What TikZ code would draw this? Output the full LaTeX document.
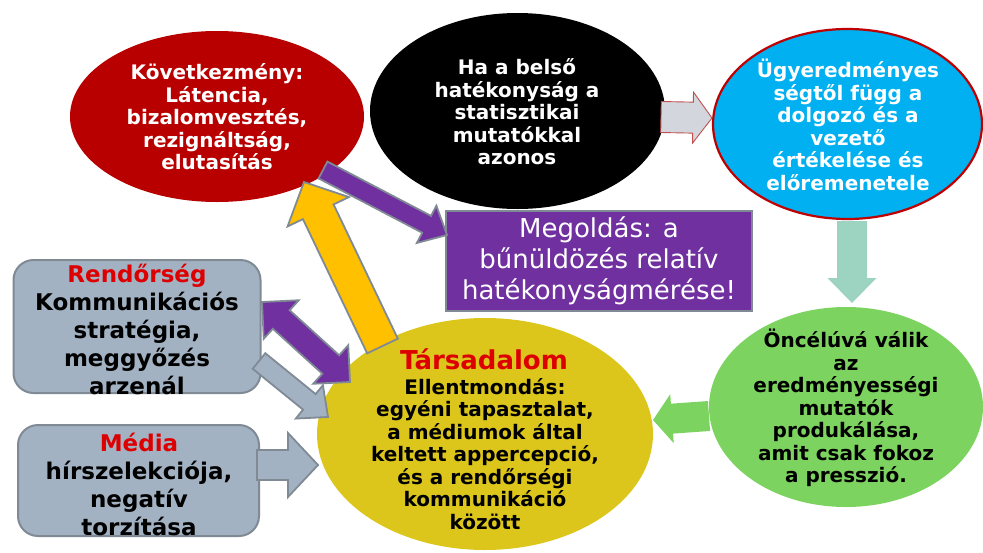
\documentclass[tikz,border=0pt]{standalone}
\usepackage{fontspec}
\setmainfont{DejaVu Sans}
\usetikzlibrary{shapes.geometric,calc}
\definecolor{cred}{HTML}{B80000}
\definecolor{cblue}{HTML}{00B0F0}
\definecolor{cborderred}{HTML}{C00000}
\definecolor{cpurple}{HTML}{7030A0}
\definecolor{cgray}{HTML}{A3B2C2}
\definecolor{cedge}{HTML}{7F8A95}
\definecolor{cyell}{HTML}{DCC61C}
\definecolor{cgold}{HTML}{FFC000}
\definecolor{cgreen}{HTML}{7DD35F}
\definecolor{cteal}{HTML}{9DD3C1}
\definecolor{clight}{HTML}{D3D7DD}
\definecolor{ctxtred}{HTML}{DD0000}
\definecolor{carrred}{HTML}{C0504D}
\newcommand{\blockarr}[6]{%
  \draw[#1] ($(#2)!#4!90:(#3)$) -- ($(#3)!#6!(#2)!#4!-90:(#2)$) -- ($(#3)!#6!(#2)!#5!-90:(#2)$) -- (#3)
    -- ($(#3)!#6!(#2)!#5!90:(#2)$) -- ($(#3)!#6!(#2)!#4!90:(#2)$) -- ($(#2)!#4!-90:(#3)$) -- cycle;}
\newcommand{\dblarr}[6]{%
  \draw[#1] (#2) -- ($(#2)!#6!(#3)!#5!90:(#3)$) -- ($(#2)!#6!(#3)!#4!90:(#3)$)
    -- ($(#3)!#6!(#2)!#4!-90:(#2)$) -- ($(#3)!#6!(#2)!#5!-90:(#2)$) -- (#3)
    -- ($(#3)!#6!(#2)!#5!90:(#2)$) -- ($(#3)!#6!(#2)!#4!90:(#2)$)
    -- ($(#2)!#6!(#3)!#4!-90:(#3)$) -- ($(#2)!#6!(#3)!#5!-90:(#3)$) -- cycle;}
\begin{document}
\begin{tikzpicture}[x=1pt,y=-1pt,
  ell/.style={ellipse, inner sep=0pt},
  etxt/.style={font=\bfseries\fontsize{20}{22.5}\selectfont, align=center, inner sep=0pt},
  btxt/.style={font=\bfseries\fontsize{23}{28}\selectfont, align=center, inner sep=0pt},
  gbox/.style={draw=cedge, line width=2pt, fill=cgray, rounded corners=20pt, inner sep=0pt},
  arr/.style={draw=cedge, line width=1.8pt, line join=miter}]
\useasboundingbox (0,0) rectangle (983,552);

% ellipses
\node[ell, fill=cred, minimum width=294pt, minimum height=171pt] (red) at (217,116.5) {};
\node[ell, fill=black, minimum width=295pt, minimum height=196pt] (black) at (517.5,111) {};
\node[ell, fill=cblue, draw=cborderred, line width=2.2pt, minimum width=269pt, minimum height=190pt] (blue) at (847.5,124) {};
\node[ell, fill=cgreen, minimum width=274pt, minimum height=200pt] (green) at (846,407) {};
\node[ell, fill=cyell, minimum width=336pt, minimum height=232pt] (soc) at (485,434) {};

% boxes
\node[draw=cedge, line width=2pt, fill=cpurple, inner sep=0pt, minimum width=306pt, minimum height=100pt,
      text=white, align=center, font=\fontsize{26}{31}\selectfont] (sol) at (599,261)
      {Megoldás: a\\bűnüldözés relatív\\hatékonyságmérése!};
\node[gbox, minimum width=247pt, minimum height=133pt] (police) at (137,326.5) {};
\node[gbox, minimum width=241pt, minimum height=111pt] (media) at (138.5,480.5) {};

% texts
\node[etxt, text=white] (redt) at (217,117) {Következmény:\\Látencia,\\bizalomvesztés,\\rezignáltság,\\elutasítás};
\node[etxt, text=white] (blackt) at (517,112) {Ha a belső\\hatékonyság a\\statisztikai\\mutatókkal\\azonos};
\node[etxt, text=white] (bluet) at (848,125) {Ügyeredményes\\ségtől függ a\\dolgozó és a\\vezető\\értékelése és\\előremenetele};
\node[etxt, text=black] (greent) at (846,408) {Öncélúvá válik\\az\\eredményességi\\mutatók\\produkálása,\\amit csak fokoz\\a presszió.};
\node[font=\bfseries\fontsize{26}{30}\selectfont, text=ctxtred, inner sep=0pt] (soct1) at (484,359) {Társadalom};
\node[etxt, text=black] (soct2) at (485,454) {Ellentmondás:\\egyéni tapasztalat,\\a médiumok által\\keltett appercepció,\\és a rendőrségi\\kommunikáció\\között};
\node[btxt] (policet) at (137,329) {\textcolor{ctxtred}{Rendőrség}\\Kommunikációs\\stratégia,\\meggyőzés\\arzenál};
\node[btxt] (mediat) at (139,484) {\textcolor{ctxtred}{Média}\\hírszelekciója,\\negatív\\torzítása};

% arrow end points
\coordinate (a1s) at (661,117);  \coordinate (a1e) at (712,118);
\coordinate (a2s) at (852,221);  \coordinate (a2e) at (852,303);
\coordinate (a3s) at (709,416);  \coordinate (a3e) at (653,420);
\coordinate (a4s) at (257,465);  \coordinate (a4e) at (318,465);
\coordinate (a5s) at (259,361);  \coordinate (a5e) at (328,417);
\coordinate (a6s) at (262,302);  \coordinate (a6e) at (350,382);
\coordinate (a7s) at (382.5,346); \coordinate (a7e) at (304,182);
\coordinate (a8s) at (323,170);  \coordinate (a8e) at (447,235);

% arrows
\blockarr{draw=carrred, line width=0.9pt, fill=clight, line join=miter}{a1s}{a1e}{15.5pt}{25.5pt}{19pt}
\blockarr{draw=none, fill=cteal}{a2s}{a2e}{15pt}{24.5pt}{25pt}
\blockarr{draw=none, fill=cgreen}{a3s}{a3e}{15pt}{24.5pt}{19pt}
\blockarr{arr, fill=cgray}{a4s}{a4e}{15pt}{32pt}{30pt}
\blockarr{arr, fill=cgray}{a5s}{a5e}{10pt}{21.5pt}{24pt}
\dblarr{arr, fill=cpurple}{a6s}{a6e}{12.5pt}{26pt}{26pt}
\blockarr{arr, fill=cgold}{a7s}{a7e}{17pt}{34pt}{33pt}
\blockarr{arr, fill=cpurple}{a8s}{a8e}{9.5pt}{21pt}{23pt}
\end{tikzpicture}
\end{document}
